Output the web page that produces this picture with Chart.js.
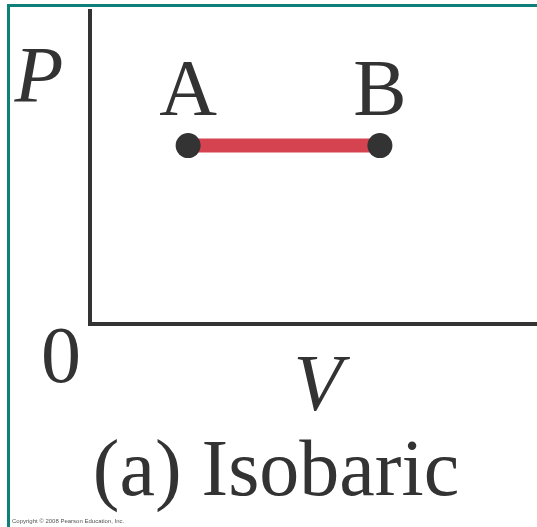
<!DOCTYPE html>
<html>
<head>
<meta charset="utf-8">
<script src="https://cdn.jsdelivr.net/npm/chart.js@4"></script>
</head>
<body style="margin:0">
<canvas id="chart" width="537" height="527"></canvas>
<script>
// states on the P-V diagram
var stateNames = ["A", "B"];
var volumes = [2.2, 6.5];
var pressures = [5.7, 5.7];
var axisMax = [10, 10];
var xLabel = "V";
var yLabel = "P";
var originLabel = "0";
var caption = "(a) Isobaric";
var copyright = "Copyright \u00a9 2008 Pearson Education, Inc.";

var ink = "#333333";

var points = [];
for (let i = 0; i < volumes.length; i++) {
  points.push({x: volumes[i], y: pressures[i]});
}

// teal frame + all the text around the plot
const decor = {
  id: 'decor',
  beforeDraw(chart) {
    const ctx = chart.ctx;
    ctx.save();
    ctx.fillStyle = '#fff';
    ctx.fillRect(0, 0, chart.width, chart.height);
    ctx.fillStyle = '#0f7f7a';
    ctx.fillRect(7, 4, chart.width - 7, 3);
    ctx.fillRect(7, 4, 3, chart.height - 4);
    ctx.restore();
  },
  afterDraw(chart) {
    const c = chart.ctx;
    const area = chart.chartArea;
    c.save();
    c.fillStyle = ink;
    c.textAlign = 'center';

    c.font = '80px "Liberation Serif"';
    var meta = chart.getDatasetMeta(0);
    meta.data.forEach(function (pt, i) {
      c.fillText(stateNames[i], pt.x, pt.y - 31);
    });
    c.fillText(originLabel, area.left - 29, area.bottom + 58);
    c.fillText(caption, 276, 495);

    c.font = 'italic 80px "Liberation Serif"';
    c.fillText(yLabel, area.left - 51, area.top + 91);
    c.fillText(xLabel, 318, area.bottom + 86);

    // square off the corner where the axes meet
    c.fillRect(area.left - 2, area.bottom - 2, 4, 4);

    c.font = '6px "Liberation Sans"';
    c.fillStyle = '#555';
    c.textAlign = 'left';
    c.fillText(copyright, 12, 523);
    c.restore();
  }
};

const config = {
  type: 'scatter',
  data: {
    datasets: [{
      data: points,
      showLine: true,
      borderColor: '#d64350',
      borderWidth: 14,
      borderCapStyle: 'butt',
      pointRadius: 12.5,
      pointHoverRadius: 12.5,
      pointBackgroundColor: ink,
      pointBorderWidth: 0
    }]
  },
  options: {
    responsive: false,
    animation: false,
    layout: {
      autoPadding: false,
      padding: {left: 90, top: 11, right: 1, bottom: 203}
    },
    plugins: {
      legend: {display: false},
      tooltip: {enabled: false},
      title: {display: false}
    },
    scales: {
      x: {
        type: 'linear',
        min: 0,
        max: axisMax[0],
        grid: {display: false},
        ticks: {display: false},
        border: {display: true, color: ink, width: 4},
        afterFit: function (scale) { scale.height = 0; }
      },
      y: {
        type: 'linear',
        min: 0,
        max: axisMax[1],
        grid: {display: false},
        ticks: {display: false},
        border: {display: true, color: ink, width: 4},
        afterFit: function (scale) { scale.width = 0; }
      }
    }
  },
  plugins: [decor]
};

new Chart(document.getElementById('chart'), config);
</script>
</body>
</html>
